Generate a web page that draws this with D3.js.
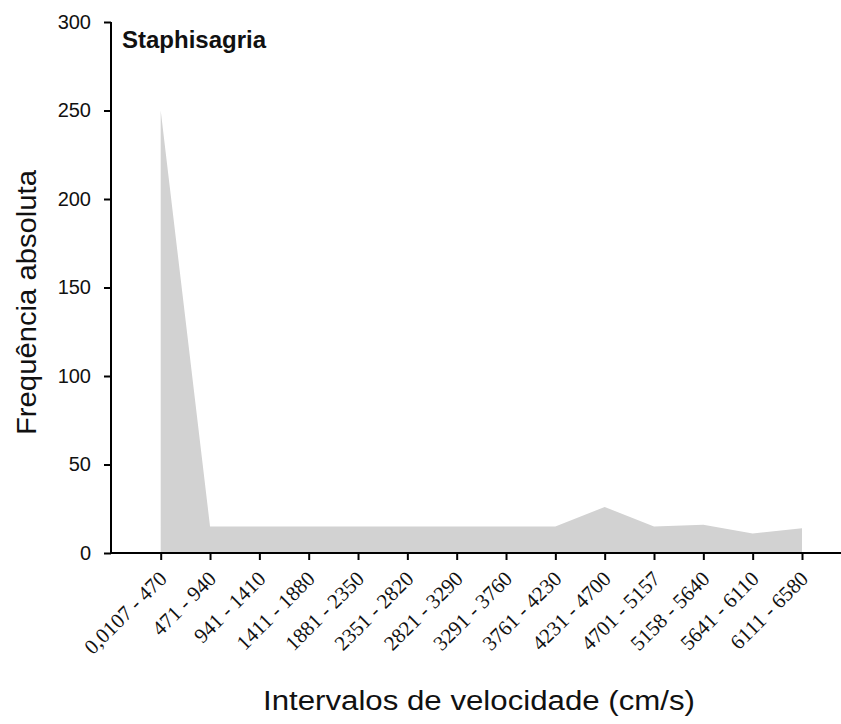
<!DOCTYPE html>
<html>
<head>
<meta charset="utf-8">
<script src="https://cdn.jsdelivr.net/npm/d3@7"></script>
<style>
  body { margin: 0; background: #fff; }
  svg { display: block; }
</style>
</head>
<body>
<svg id="chart" width="841" height="724"></svg>
<script>
//#region DATA /////////////////////////////////////////////////////////////////

// velocity intervals (cm/s)
const intervals = [
  "0,0107 - 470", "471 - 940", "941 - 1410", "1411 - 1880", "1881 - 2350",
  "2351 - 2820", "2821 - 3290", "3291 - 3760", "3761 - 4230", "4231 - 4700",
  "4701 - 5157", "5158 - 5640", "5641 - 6110", "6111 - 6580"
];
// absolute frequency per interval
const frequencies = [250, 15, 15, 15, 15, 15, 15, 15, 15, 26, 15, 16, 11, 14];
const yTicks = [0, 50, 100, 150, 200, 250, 300];

const chartTitle = "Staphisagria";
const xTitle = "Intervalos de velocidade (cm/s)";
const yTitle = "Frequência absoluta";

//#endregion

//#region LAYOUT ///////////////////////////////////////////////////////////////

const AXIS_LEFT = 111, AXIS_RIGHT = 841, AXIS_BOTTOM = 553, AXIS_TOP = 22;
const FIRST_CAT = 160.7, LAST_CAT = 802;
const SANS = "Arial, 'Liberation Sans', sans-serif";
const SERIF = "'Times New Roman', 'Liberation Serif', serif";

//#endregion

//#region DRAWING //////////////////////////////////////////////////////////////

const svg = d3.select("#chart");

let x = d3.scalePoint().domain(intervals).range([ FIRST_CAT, LAST_CAT ]);
let y = d3.scaleLinear().domain([ 0, 300 ]).range([ AXIS_BOTTOM, AXIS_TOP ]);

// filled area
let data = intervals.map((c, i) => ({c : c, v : frequencies[i]}));
let area = d3.area().x(d => x(d.c)).y0(y(0)).y1(d => y(d.v));
svg.append("path")
    .attr("d", area(data))
    .attr("fill", "#d2d2d2");

// y axis
let yAxis = svg.append("g")
    .attr("transform", "translate(" + AXIS_LEFT + ",0)")
    .call(d3.axisLeft(y).tickValues(yTicks).tickSize(7).tickPadding(13));
yAxis.select(".domain").attr("stroke-width", 2).attr("d",
    "M0," + y(300) + "V" + y(0));
yAxis.selectAll(".tick line").attr("stroke-width", 2);
yAxis.selectAll(".tick text")
    .attr("font-family", SANS)
    .attr("font-size", 20)
    .attr("fill", "#111");

// x axis, labels at 45deg
let xAxis = svg.append("g")
    .attr("transform", "translate(0," + AXIS_BOTTOM + ")")
    .call(d3.axisBottom(x).tickSize(7));
xAxis.select(".domain").attr("stroke-width", 2).attr("d",
    "M" + AXIS_LEFT + ",0H" + AXIS_RIGHT);
xAxis.selectAll(".tick line").attr("stroke-width", 2);
xAxis.selectAll(".tick text")
    .attr("font-family", SERIF)
    .attr("font-size", 21)
    .attr("fill", "#111")
    .attr("text-anchor", "end")
    .attr("dy", null)
    .attr("y", null)
    .attr("transform", "translate(7,27) rotate(-45)");

// titles
svg.append("text")
    .text(chartTitle)
    .attr("x", 122).attr("y", 48)
    .attr("font-family", SANS)
    .attr("font-weight", "bold")
    .attr("font-size", 24)
    .attr("fill", "#111");

svg.append("text")
    .text(xTitle)
    .attr("x", 263).attr("y", 710)
    .attr("textLength", 432)
    .attr("lengthAdjust", "spacingAndGlyphs")
    .attr("font-family", SANS)
    .attr("font-size", 27)
    .attr("fill", "#111");

svg.append("text")
    .text(yTitle)
    .attr("transform", "translate(36,435) rotate(-90)")
    .attr("textLength", 265)
    .attr("lengthAdjust", "spacingAndGlyphs")
    .attr("font-family", SANS)
    .attr("font-size", 27)
    .attr("fill", "#111");

//#endregion
</script>
</body>
</html>
